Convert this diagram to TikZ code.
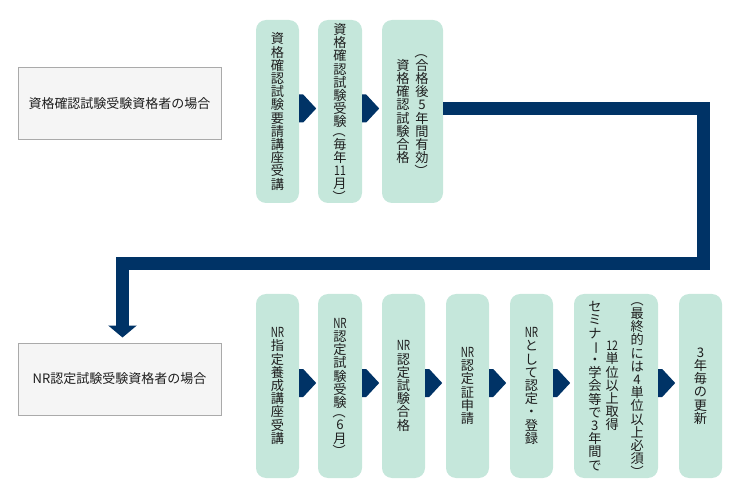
\documentclass[tikz,border=0pt]{standalone}
\usepackage{graphicx}
\usepackage{fontspec}
\setmainfont{Noto Sans CJK JP}
\usetikzlibrary{arrows.meta}

\definecolor{navy}{RGB}{0,51,102}
\definecolor{mint}{RGB}{197,231,219}
\definecolor{casefill}{RGB}{245,245,245}
\definecolor{caseline}{RGB}{170,170,170}
\definecolor{ink}{RGB}{30,30,30}

\makeatletter
\newlength\cellw \setlength\cellw{14pt}
\newcommand\vl{\rotatebox[origin=c]{-90}{（}}
\newcommand\vr{\rotatebox[origin=c]{-90}{）}}
\newcommand\vbar{\rotatebox[origin=c]{-90}{ー}}
\newcommand\nr{\scalebox{0.75}[1.05]{NR}}
\newcommand\vtwo[1]{\scalebox{0.8}[1]{#1}}
\def\vlmark{\vl}\def\vrmark{\vr}
\newcommand\vcol[1]{$\vcenter{\baselineskip=13.2pt\lineskiplimit=-20pt
  \@tfor\vc:=#1\do{%
    \ifx\vc\vlmark\vskip-4pt\fi
    \hbox to\cellw{\hss\vc\hss}%
    \ifx\vc\vrmark\vskip-4pt\fi}}$}
\makeatother

\newcommand\stepgo[1]{\fill[navy] ([yshift=3pt]#1.east) ++(0,-14) -- ++(4,0) -- ++(13,14) -- ++(-13,14) -- ++(-4,0) -- cycle;}

\begin{document}
\begin{tikzpicture}[x=1pt,y=-1pt,
    stepbox/.style={fill=mint, rounded corners=10pt, inner sep=0pt, minimum width=43pt,
      text=ink, font=\fontsize{13.2}{13.2}\selectfont},
    casebox/.style={fill=casefill, draw=caseline, line width=1pt, minimum width=203pt,
      minimum height=72pt, text=ink, font=\fontsize{13}{13}\selectfont},
    flowline/.style={navy, line width=13pt, -{Triangle[width=28pt,length=12pt]}}]
    \useasboundingbox (0,0) rectangle (740,500);
    \node[casebox] (caseA) at (119.5,104) {資格確認試験受験資格者の場合};
    \node[casebox] (caseB) at (119.5,379) {NR認定試験受験資格者の場合};
    \node[stepbox, minimum height=183pt] (t1) at (277.5,111.5) {\vcol{資格確認試験要請講座受講}};
    \node[stepbox, minimum height=183pt, minimum width=44pt] (t2) at (340,111.5) {\vcol{資格確認試験受験{\vl}毎年{\vtwo{11}}月{\vr}}};
    \node[stepbox, minimum height=183pt, minimum width=61pt] (t3) at (412.5,111.5) {\vcol{資格確認試験合格}\hskip5pt\vcol{{\vl}合格後5年間有効{\vr}}};
    \node[stepbox, minimum height=184pt] (b1) at (277.5,386) {\vcol{{\nr}指定養成講座受講}};
    \node[stepbox, minimum height=184pt, minimum width=44pt] (b2) at (340,386) {\vcol{{\nr}認定試験受験{\vl}6月{\vr}}};
    \node[stepbox, minimum height=184pt] (b3) at (403.5,386) {\vcol{{\nr}認定試験合格}};
    \node[stepbox, minimum height=184pt] (b4) at (467.5,386) {\vcol{{\nr}認定証申請}};
    \node[stepbox, minimum height=184pt] (b5) at (531.5,386) {\vcol{{\nr}として認定・登録}};
    \node[stepbox, minimum height=184pt, minimum width=84pt] (b6) at (616,386) {\vcol{セミナ{\vbar}・学会等で3年間で}\hskip3.3pt\vcol{{\vtwo{12}}単位以上取得}\hskip11pt\vcol{{\vl}最終的には4単位以上必須{\vr}}};
    \node[stepbox, minimum height=184pt] (b7) at (700.5,386) {\vcol{3年毎の更新}};
    \foreach \s in {t1,t2,b1,b2,b3,b4,b5,b6}
      {\stepgo{\s}}
    \coordinate (bend) at (703.5,263.5);
    \draw[flowline] ([yshift=3pt]t3.east) -| (bend) -| ([xshift=3pt,yshift=5pt]caseB.north);
  \end{tikzpicture}
\end{document}
